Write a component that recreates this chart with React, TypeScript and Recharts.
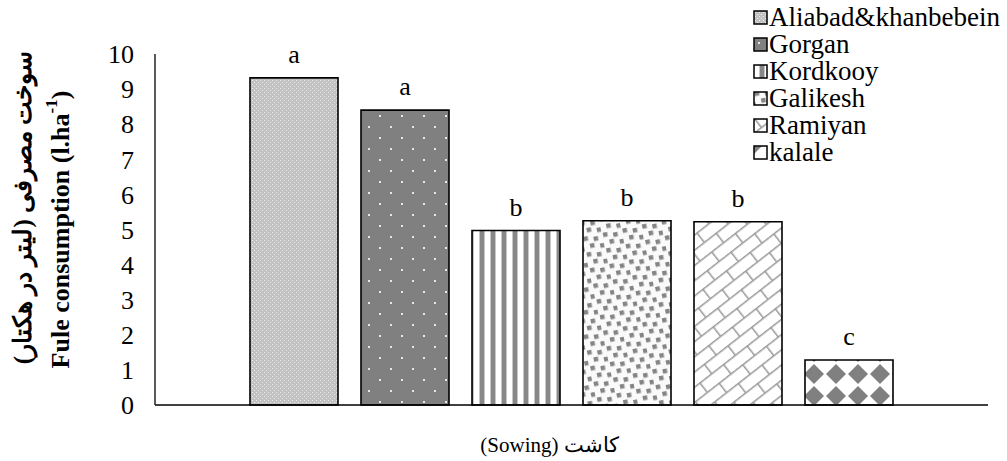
import { BarChart, Bar, XAxis, YAxis, LabelList, Label } from "recharts"

const regions = ["Aliabad&khanbebein", "Gorgan", "Kordkooy", "Galikesh", "Ramiyan", "kalale"]
const fuel = [9.32, 8.4, 4.97, 5.25, 5.22, 1.28]
const letters = ["a", "a", "b", "b", "b", "c"]
const yTicks = [0, 1, 2, 3, 4, 5, 6, 7, 8, 9, 10]
const category = "Sowing"

const W = 1007
const H = 461
const MARGIN = { top: 54, right: 19, bottom: 26, left: 95 }
const PLOT_W = W - MARGIN.left - MARGIN.right
const SERIF = '"Liberation Serif", "Times New Roman", Times, serif'

// one category, one column per region
const row: Record<string, string | number> = { name: category }
regions.forEach((r, i) => {
  row["s" + i] = fuel[i]
})
const data = [row]

const Patterns = () => (
  <defs>
    <pattern id="p0" width="4" height="4" patternUnits="userSpaceOnUse">
      <rect width="4" height="4" fill="#c2c2c2" />
      <rect x="0" y="0" width="1" height="1" fill="#ececec" />
      <rect x="2" y="2" width="1" height="1" fill="#ececec" />
    </pattern>
    <pattern id="p1" width="22" height="22" patternUnits="userSpaceOnUse">
      <rect width="22" height="22" fill="#808080" />
      <rect x="5" y="5" width="2" height="2" fill="#e8e8e8" />
      <rect x="16" y="16" width="2" height="2" fill="#e8e8e8" />
    </pattern>
    <pattern id="p2" width="11" height="10" patternUnits="userSpaceOnUse">
      <rect width="11" height="10" fill="#ffffff" />
      <rect x="6" y="0" width="1" height="10" fill="#c8c8c8" />
      <rect x="7" y="0" width="4" height="10" fill="#888888" />
      <rect x="0" y="0" width="1" height="10" fill="#c8c8c8" />
    </pattern>
    <pattern id="p3" width="20" height="16" patternUnits="userSpaceOnUse" patternTransform="rotate(-12)">
      <rect width="20" height="16" fill="#fafafa" />
      <rect x="1" y="1" width="4.5" height="4.5" fill="#858585" />
      <rect x="11" y="3" width="4.5" height="4.5" fill="#858585" />
      <rect x="6" y="9" width="4.5" height="4.5" fill="#858585" />
      <rect x="16" y="11" width="4.5" height="4.5" fill="#858585" />
    </pattern>
    <pattern id="p4" width="30" height="24" patternUnits="userSpaceOnUse" patternTransform="rotate(-38)">
      <rect width="30" height="24" fill="#ffffff" />
      <path d="M0 0.75H30 M0 12.75H30 M0.75 0V12 M15.75 12V24" stroke="#999999" strokeWidth="1.5" fill="none" />
    </pattern>
    <pattern id="p5" width="22" height="22" patternUnits="userSpaceOnUse">
      <rect width="22" height="22" fill="#808080" />
      <polygon points="11,-1 23,11 11,23 -1,11" fill="#ffffff" />
    </pattern>
  </defs>
)

const YLabel = (props: any) => {
  const vb = props.viewBox || {}
  const cy = MARGIN.top + (H - MARGIN.top - MARGIN.bottom - 30) / 2
  const cyFa = cy - 22
  const xEn = vb.x - 35
  const xFa = vb.x - 73
  return (
    <g>
      <text
        x={xFa}
        y={cyFa}
        transform={`rotate(-90 ${xFa} ${cyFa})`}
        textAnchor="middle"
        dominantBaseline="central"
        fontSize={25}
        fontFamily={SERIF}
        fontWeight="bold"
        fill="#000"
        style={{ direction: "rtl" }}
      >
        سوخت مصرفی (لیتر در هکتار)
      </text>
      <text
        x={xEn}
        y={cy}
        transform={`rotate(-90 ${xEn} ${cy})`}
        textAnchor="middle"
        dominantBaseline="central"
        fontSize={26}
        fontFamily={SERIF}
        fontWeight="bold"
        fill="#000"
      >
        Fule consumption (l.ha
        <tspan fontSize={17} dy={-9}>-1</tspan>
        <tspan dy={9}>)</tspan>
      </text>
    </g>
  )
}

const XLabel = (props: any) => {
  const vb = props.viewBox || {}
  const cx = vb.x + vb.width / 2 - 22
  return (
    <text
      x={cx}
      y={vb.y + 40}
      textAnchor="middle"
      dominantBaseline="central"
      fontSize={21}
      fontFamily={SERIF}
      fill="#000"
      style={{ direction: "rtl" }}
    >
      کاشت (Sowing)
    </text>
  )
}

// Excel draws the category tick at the band edge, not in the middle
const EdgeTick = (p: any) => (
  <line x1={p.x + PLOT_W / 2} x2={p.x + PLOT_W / 2} y1={p.y} y2={p.y + 7} stroke="#000" strokeWidth={1.3} />
)

const App = () => {
  return (
    <div style={{ position: "absolute", left: 0, top: 0, width: W, height: H, background: "#fff" }}>
      <BarChart width={W} height={H} data={data} margin={MARGIN} barCategoryGap={95} barGap={23}>
        <Patterns />
        <XAxis
          dataKey="name"
          height={30}
          axisLine={{ stroke: "#000", strokeWidth: 1.3 }}
          tickLine={false}
          tickSize={0}
          tickMargin={0}
          tick={EdgeTick}
        >
          <Label content={XLabel} />
        </XAxis>
        <YAxis
          width={60}
          domain={[0, 10]}
          ticks={yTicks}
          interval={0}
          axisLine={{ stroke: "#000", strokeWidth: 1.3 }}
          tickLine={false}
          tickSize={6}
          tickMargin={15}
          tick={{ fill: "#000", fontSize: 26, fontFamily: SERIF }}
        >
          <Label content={YLabel} />
        </YAxis>
        {regions.map((r, i) => (
          <Bar
            key={r}
            dataKey={"s" + i}
            name={r}
            fill={`url(#p${i})`}
            stroke="#000"
            strokeWidth={1.6}
            isAnimationActive={false}
          >
            <LabelList
              position="top"
              offset={15}
              formatter={() => letters[i]}
              style={{ fill: "#000", fontSize: 26, fontFamily: SERIF }}
            />
          </Bar>
        ))}
      </BarChart>
      <div style={{ position: "absolute", left: 753, top: 4, fontFamily: SERIF, fontSize: 27, lineHeight: "27px", color: "#000" }}>
        {regions.map((r, i) => (
          <div key={r} style={{ display: "flex", alignItems: "center", height: 27, whiteSpace: "nowrap" }}>
            <svg width={15} height={15} style={{ flex: "none" }}>
              <rect x={1} y={1} width={13} height={13} fill={`url(#p${i})`} stroke="#000" strokeWidth={1.5} />
            </svg>
            <span style={{ marginLeft: 1 }}>{r}</span>
          </div>
        ))}
      </div>
    </div>
  )
}

export default App
